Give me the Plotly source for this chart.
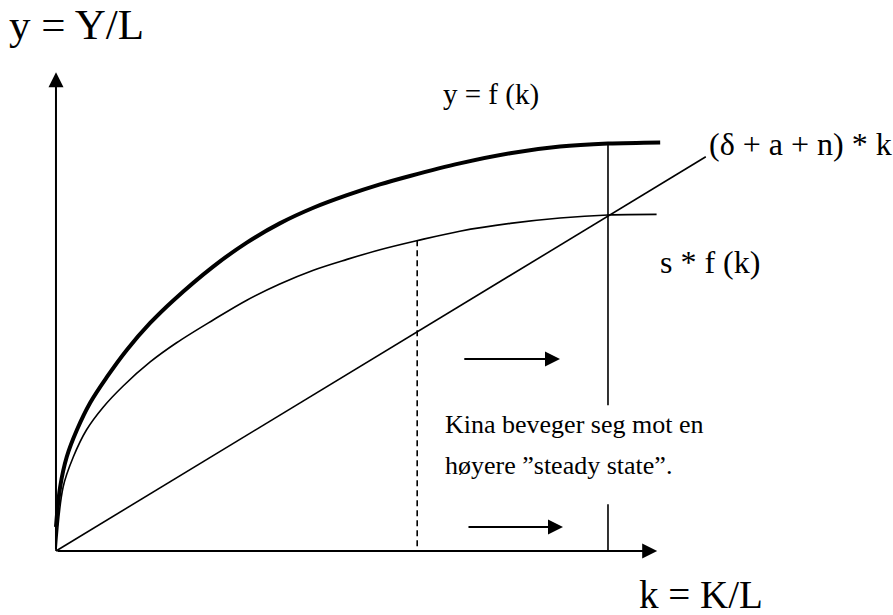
import plotly.graph_objects as go

# production function y = f(k)
k_f = [0, 0.07, 0.18, 0.35, 0.57, 0.85, 1.18, 1.57, 1.96, 2.62, 3.18, 3.73,
       4.29, 4.85, 5.4, 5.9, 6.73, 7.57, 8.4, 9.2, 10.07]
y_f = [0.40, 1.07, 1.57, 2.02, 2.47, 2.9, 3.35, 3.8, 4.18, 4.74, 5.14, 5.46,
       5.72, 5.93, 6.11, 6.25, 6.46, 6.63, 6.74, 6.79, 6.81]

# savings s * f(k)
k_sf = [0, 0.12, 0.29, 0.51, 0.79, 1.12, 1.57, 2.01, 2.62, 3.18, 3.73, 4.29,
        4.85, 5.4, 6.01, 6.73, 7.57, 8.4, 9.2, 10.01]
y_sf = [0, 1.07, 1.57, 2.02, 2.4, 2.75, 3.15, 3.47, 3.85, 4.18, 4.45, 4.68,
        4.86, 5.02, 5.17, 5.33, 5.46, 5.55, 5.6, 5.61]

# break-even line (delta + a + n) * k
k_be = [0, 10.83]
y_be = [0, 6.57]

# new steady state (solid) and old capital level (dashed)
k_ss = [9.2, 9.2, None, 9.2, 9.2]
y_ss = [6.8, 2.43, None, 0.78, 0]
k_old = [6.02, 6.02]
y_old = [5.18, 0]

# arrows: (tail_k, tail_y, tip_k, tip_y)
axis_arrows = [(0, 0, 10.02, 0), (0, 0, 0, 7.98)]
move_arrows = [(6.78, 3.2, 8.4, 3.2), (6.85, 0.4, 8.45, 0.4)]

serif = 'Liberation Serif, Times New Roman, serif'

fig = go.Figure()
fig.add_trace(go.Scatter(x=k_f, y=y_f, mode='lines',
                         line=dict(color='black', width=4, shape='spline', smoothing=1)))
fig.add_trace(go.Scatter(x=k_sf, y=y_sf, mode='lines',
                         line=dict(color='black', width=1.6, shape='spline', smoothing=1)))
fig.add_trace(go.Scatter(x=k_be, y=y_be, mode='lines', line=dict(color='black', width=1.6)))
fig.add_trace(go.Scatter(x=k_ss, y=y_ss, mode='lines', line=dict(color='black', width=1.6)))
fig.add_trace(go.Scatter(x=k_old, y=y_old, mode='lines',
                         line=dict(color='black', width=1.6, dash='6px,4px')))

for x0, y0, x1, y1 in axis_arrows + move_arrows:
    fig.add_annotation(x=x1, y=y1, ax=x0, ay=y0, xref='x', yref='y', axref='x', ayref='y',
                       text='', showarrow=True, arrowhead=2, arrowsize=1.5, arrowwidth=2,
                       arrowcolor='black', standoff=0)

labels = [
    dict(x=0.35, y=8.77, text='y = Y/L', size=43, xanchor='center'),
    dict(x=7.25, y=7.6, text='y = f (k)', size=29, xanchor='center'),
    dict(x=10.85, y=6.78, text='(δ + a + n) * k', size=32, xanchor='left'),
    dict(x=10.03, y=4.82, text='s * f (k)', size=32, xanchor='left'),
    dict(x=6.45, y=2.1, text='Kina beveger seg mot en', size=26, xanchor='left'),
    dict(x=6.45, y=1.43, text='høyere ”steady state”.', size=26, xanchor='left'),
    dict(x=10.75, y=-0.73, text='k = K/L', size=39, xanchor='center'),
]
for lb in labels:
    fig.add_annotation(x=lb['x'], y=lb['y'], text=lb['text'], showarrow=False,
                       xanchor=lb['xanchor'], yanchor='middle', align='left',
                       font=dict(family=serif, size=lb['size'], color='black'))

fig.update_xaxes(range=[-0.933, 13.95], visible=False)
fig.update_yaxes(range=[-1.067, 9.183], visible=False)
fig.update_layout(width=893, height=615, margin=dict(l=0, r=0, t=0, b=0),
                  plot_bgcolor='white', paper_bgcolor='white', showlegend=False)
fig.write_html('out.html', config={'displayModeBar': False},
               post_script="document.body.style.margin='0px';")
